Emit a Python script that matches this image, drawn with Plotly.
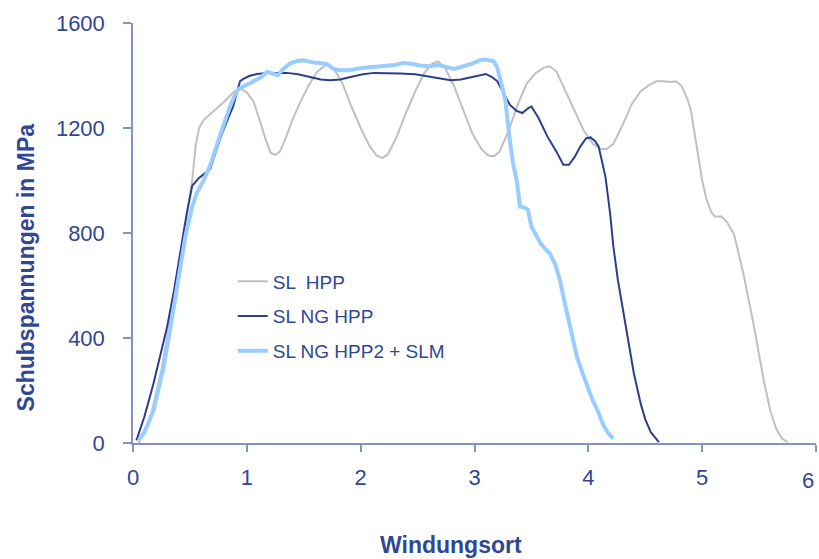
import plotly.graph_objects as go

# ---- data ----
hpp_x = [0.05, 0.15, 0.25, 0.35, 0.45, 0.50, 0.52, 0.55, 0.58, 0.62, 0.66, 0.72, 0.80, 0.88, 0.94,
         1.00, 1.06, 1.12, 1.17, 1.21, 1.25, 1.29, 1.34, 1.40, 1.46, 1.54, 1.62, 1.70, 1.76, 1.84,
         1.92, 2.00, 2.08, 2.14, 2.19, 2.24, 2.32, 2.40, 2.48, 2.56, 2.63, 2.68, 2.74, 2.82, 2.90,
         2.98, 3.06, 3.12, 3.17, 3.22, 3.30, 3.38, 3.46, 3.54, 3.61, 3.66, 3.72, 3.80, 3.88, 3.96,
         4.04, 4.11, 4.16, 4.22, 4.30, 4.38, 4.46, 4.54, 4.60, 4.66, 4.72, 4.77, 4.82, 4.87, 4.90,
         4.95, 5.00, 5.04, 5.08, 5.11, 5.17, 5.22, 5.28, 5.36, 5.45, 5.54, 5.60, 5.65, 5.70, 5.75]
hpp_y = [0, 90, 280, 530, 800, 950, 1000, 1130, 1200, 1230, 1245, 1270, 1300, 1335, 1352,
         1335, 1300, 1220, 1150, 1105, 1098, 1110, 1160, 1230, 1290, 1360, 1415, 1441, 1430, 1370,
         1280, 1200, 1130, 1095, 1085, 1100, 1170, 1260, 1340, 1410, 1445, 1454, 1430, 1360, 1270,
         1180, 1120, 1095, 1092, 1110, 1190, 1290, 1370, 1410, 1430, 1435, 1415, 1340, 1260, 1190,
         1140, 1120, 1120, 1140, 1210, 1290, 1340, 1365, 1378, 1378, 1375, 1378, 1360, 1310, 1270,
         1140, 1000, 926, 880, 863, 863, 840, 795, 650, 456, 240, 120, 55, 18, 3]

ng_x = [0.03, 0.10, 0.18, 0.24, 0.30, 0.36, 0.42, 0.47, 0.52, 0.58, 0.64, 0.68, 0.72, 0.77, 0.82,
        0.88, 0.94, 0.97, 1.02, 1.06, 1.09, 1.18, 1.27, 1.35, 1.45, 1.55, 1.65, 1.73, 1.82, 1.92,
        2.02, 2.12, 2.23, 2.35, 2.48, 2.60, 2.70, 2.79, 2.88, 2.98, 3.05, 3.10, 3.15, 3.20, 3.26,
        3.31, 3.37, 3.42, 3.47, 3.50, 3.56, 3.64, 3.72, 3.78, 3.83, 3.88, 3.93, 3.98, 4.02, 4.06,
        4.09, 4.12, 4.15, 4.19, 4.22, 4.26, 4.31, 4.36, 4.40, 4.46, 4.50, 4.55, 4.60, 4.62]
ng_y = [10, 100, 227, 330, 443, 580, 740, 870, 980, 1010, 1030, 1045, 1100, 1165, 1220,
        1282, 1378, 1387, 1398, 1403, 1406, 1410, 1410, 1410, 1405, 1395, 1385, 1382, 1385, 1395,
        1405, 1410, 1410, 1408, 1405, 1395, 1388, 1382, 1385, 1395, 1400, 1406, 1395, 1378, 1330,
        1289, 1265, 1257, 1275, 1282, 1240, 1168, 1110, 1060, 1060, 1090, 1130, 1160, 1164, 1150,
        1130, 1075, 1015, 880, 748, 620, 494, 370, 265, 150, 90, 40, 12, 3]

slm_x = [0.05, 0.10, 0.18, 0.27, 0.33, 0.40, 0.46, 0.52, 0.56, 0.62, 0.68, 0.74, 0.79, 0.85, 0.91,
         0.94, 1.00, 1.06, 1.12, 1.18, 1.23, 1.27, 1.32, 1.38, 1.44, 1.50, 1.58, 1.65, 1.70, 1.76,
         1.82, 1.90, 2.00, 2.10, 2.20, 2.30, 2.38, 2.45, 2.52, 2.60, 2.68, 2.76, 2.82, 2.90, 2.98,
         3.05, 3.10, 3.17, 3.20, 3.23, 3.27, 3.31, 3.34, 3.37, 3.40, 3.44, 3.47, 3.50, 3.54, 3.58,
         3.62, 3.66, 3.71, 3.75, 3.80, 3.85, 3.90, 3.95, 3.99, 4.04, 4.08, 4.13, 4.17, 4.22]
slm_y = [10, 40, 125, 290, 443, 620, 786, 900, 952, 1000, 1060, 1140, 1206, 1280, 1340,
         1352, 1365, 1378, 1392, 1414, 1405, 1401, 1425, 1446, 1455, 1458, 1450, 1445, 1445, 1425,
         1420, 1420, 1428, 1432, 1435, 1440, 1448, 1445, 1438, 1435, 1440, 1430, 1425, 1435, 1445,
         1458, 1461, 1454, 1430, 1380, 1308, 1155, 1060, 1002, 901, 897, 888, 824, 790, 761,
         740, 723, 680, 621, 519, 420, 328, 265, 214, 160, 125, 70, 40, 17]

x_ticks = [0, 1, 2, 3, 4, 5, 6]
y_ticks = [0, 400, 800, 1200, 1600]

TXT = "#2F4795"
AX = "#8593C4"
FONT = "Liberation Sans, Arial, sans-serif"

fig = go.Figure()
fig.add_trace(go.Scatter(x=hpp_x, y=hpp_y, mode="lines", name="SL  HPP", legendgroup="a",
                         line=dict(color="#C0C0C0", width=2)))
fig.add_trace(go.Scatter(x=ng_x, y=ng_y, mode="lines", name="SL NG HPP", legendgroup="b",
                         line=dict(color="#2B3F8E", width=2)))
fig.add_trace(go.Scatter(x=slm_x, y=slm_y, mode="lines", name="SL NG HPP2 + SLM", legendgroup="c",
                         line=dict(color="#99CCFF", width=4)))

# tick labels: the last one (at the window edge) is drawn as an annotation kept inside the page
x_ticktext = [str(v) for v in x_ticks[:-1]] + [""]

fig.update_layout(
    width=819, height=559,
    margin=dict(l=133, r=3, t=23, b=116),
    paper_bgcolor="white", plot_bgcolor="white",
    font=dict(family=FONT, color=TXT),
    showlegend=True,
    legend=dict(x=0.146, y=0.43, xanchor="left", yanchor="top", traceorder="grouped",
                tracegroupgap=7,
                bgcolor="rgba(0,0,0,0)", font=dict(size=19, color=TXT)),
    xaxis=dict(range=[0, 6], tickvals=x_ticks, ticktext=x_ticktext, showgrid=False, zeroline=False,
               showline=True, linecolor=AX, linewidth=1.5,
               ticks="outside", ticklen=7, tickcolor=AX, tickwidth=1.5,
               tickfont=dict(size=22, color=TXT), ticklabelstandoff=7),
    yaxis=dict(range=[0, 1600], tickvals=y_ticks, showgrid=False, zeroline=False,
               showline=True, linecolor=AX, linewidth=1.5,
               ticks="outside", ticklen=8, tickcolor=AX, tickwidth=1.5,
               tickfont=dict(size=22, color=TXT), ticklabelstandoff=14),
    annotations=[
        dict(text="<b>Windungsort</b>", xref="paper", yref="paper", x=0.4656, y=-0.243,
             xanchor="center", yanchor="middle", showarrow=False,
             font=dict(size=23, color=TXT)),
        dict(text="<b>Schubspannungen in MPa</b>", xref="paper", yref="paper", x=-0.1567, y=0.418,
             xanchor="center", yanchor="middle", showarrow=False, textangle=-90,
             font=dict(size=23, color=TXT)),
        dict(text=str(x_ticks[-1]), x=x_ticks[-1], y=0, xref="x", yref="paper",
             yshift=-37, xanchor="right", yanchor="middle", showarrow=False,
             font=dict(size=22, color=TXT)),
    ],
)

fig.write_html("out.html")
